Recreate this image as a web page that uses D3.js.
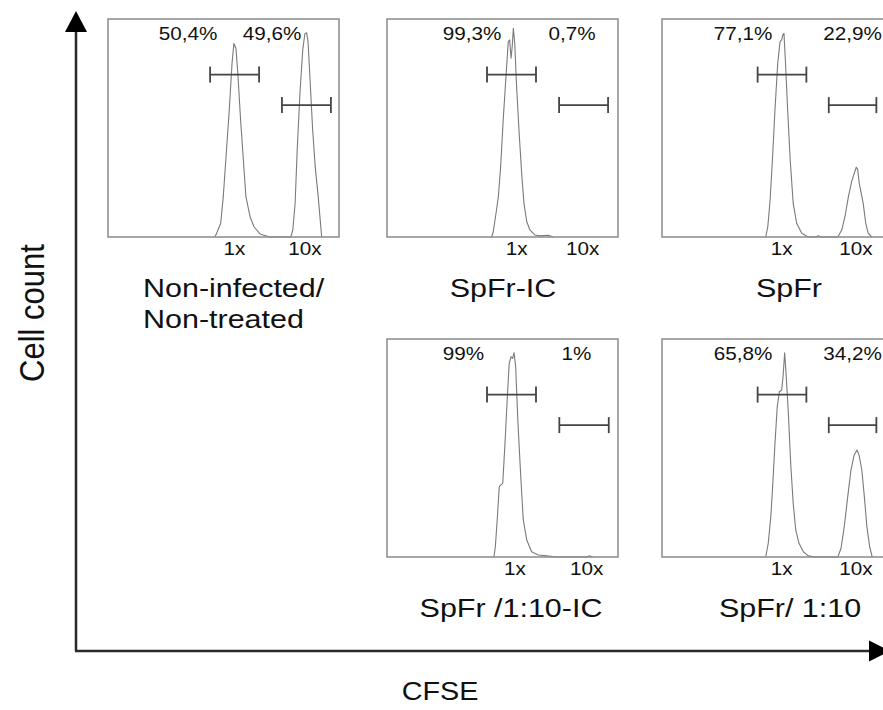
<!DOCTYPE html>
<html>
<head>
<meta charset="utf-8">
<script src="https://cdn.jsdelivr.net/npm/d3@7"></script>
<style>
  html, body { margin: 0; padding: 0; background: #fff; overflow: hidden; }
  svg { display: block; font-family: "Liberation Sans", Arial, Helvetica, sans-serif; }
</style>
</head>
<body>
<script>
// ---------------- DATA ----------------
const panelNames = [["Non-infected/", "Non-treated"], ["SpFr-IC"], ["SpFr"], ["SpFr /1:10-IC"], ["SpFr/ 1:10"]];
const percentLow  = ["50,4%", "99,3%", "77,1%", "99%", "65,8%"];
const percentHigh = ["49,6%", "0,7%", "22,9%", "1%", "34,2%"];
const tickLabels = ["1x", "10x"];
// CFSE channel (0-1000) where the 1x / 10x labels sit, per panel
const tickChannels = [[547, 853], [561, 847], [518, 840], [554, 864], [518, 840]];
// Gate bounds (CFSE channel) per panel
const gateLow  = [[442, 654], [433, 645], [414, 625], [433, 645], [414, 625]];
const gateHigh = [[753, 965], [745, 957], [722, 928], [746, 960], [722, 928]];
// gate heights (% of max count)
const gateLevels = [74.5, 60.5];

// Histograms: [CFSE channel, cell count (% of max)]
const histNonInfected = [
  [463,0],[473,2.4],[488,6.3],[499,18.5],[511,36.9],[525,58.3],[537,79.7],[545,88.8],[554,86.5],
  [563,73.5],[574,53.7],[586,35.3],[597,18.5],[615,9.3],[632,4.7],[658,1.4],[701,0],
  [791,0],[800,3.2],[810,15.4],[819,39.9],[831,65.9],[843,85.8],[852,93.1],[860,93.7],[866,89.6],
  [874,73.5],[886,49.1],[897,32.3],[910,18.5],[925,0]
];
const histSpFrIC = [
  [453,0],[460,2.4],[472,10.9],[482,18.5],[492,32.3],[503,53.7],[515,73.5],[525,89.6],[531,90.4],
  [537,82],[542,87.3],[547,95.7],[553,88.8],[561,69],[573,46],[584,27.7],[593,15.4],[605,7],
  [619,3.2],[641,0.9],[662,0.5],[698,0.8],[720,0]
];
const histSpFr = [
  [449,0],[458,4.7],[468,17],[478,35.3],[489,58.3],[501,79.7],[511,89.6],[518,90.4],[523,92.7],
  [528,93.4],[534,81.2],[544,58.3],[555,35.3],[568,15.4],[583,6.3],[605,1.7],[633,0],
  [666,0],[677,0.6],[688,0],
  [761,0],[778,3.2],[792,9.3],[807,18.5],[821,25.4],[832,29.2],[841,32],[847,31],[854,24.6],
  [861,20.8],[871,15.4],[882,6.3],[893,1.7],[908,0]
];
const histSpFr110IC = [
  [463,0],[469,4.7],[478,18.5],[486,32.3],[492,33],[501,33.8],[510,50.6],[521,73.5],[529,88.8],
  [537,91.9],[544,91.1],[550,93.7],[557,87.3],[567,61.3],[579,36.9],[590,17],[605,7.8],[626,2.4],
  [655,0.9],[691,0.5],[735,0],
  [867,0],[876,0.6],[890,0]
];
const histSpFr110 = [
  [449,0],[460,6.3],[471,18.5],[479,32.3],[489,52.1],[499,69],[508,75.8],[518,76.6],[524,82.7],
  [531,93.7],[537,84.3],[547,66],[557,43],[568,24.6],[579,12.4],[593,6.3],[612,2.4],[633,0.5],[662,0],
  [761,0],[775,4],[789,13.9],[804,27.7],[818,39.9],[832,46.8],[844,49.1],[853,46.8],[865,39.9],
  [876,27.7],[887,13.9],[899,4.7],[910,0]
];
const histograms = [histNonInfected, histSpFrIC, histSpFr, histSpFr110IC, histSpFr110];

// ---------------- LAYOUT ----------------
const W = 883, H = 710;
const PW = 231, PH = 218;
const colX = [108, 387, 662];
const rowY = [19, 339];
const panelGrid = [[0, 0], [0, 1], [0, 2], [1, 1], [1, 2]]; // [row, col]
const pctLowX  = [80, 85, 81, 76.5, 81];
const pctHighX = [164, 185, 190.5, 189.5, 190.5];
const nameX = [35, 116, 127, 124, 128];
const STRETCH = 1.15; // the original artwork's type is slightly wide

function addText(parent, tx, ty, str, size, anchor, rot) {
  return parent.append("text")
    .attr("transform", `translate(${tx},${ty}) scale(${STRETCH},1)` + (rot ? ` rotate(${rot})` : ""))
    .attr("text-anchor", anchor)
    .attr("font-size", size)
    .attr("fill", "#111")
    .text(str);
}

const svg = d3.select("body").append("svg")
  .attr("width", W).attr("height", H)
  .attr("viewBox", `0 0 ${W} ${H}`);

const x = d3.scaleLinear().domain([0, 1000]).range([0, PW]);
const y = d3.scaleLinear().domain([0, 100]).range([PH, 0]);
const line = d3.line().x(d => x(d[0])).y(d => y(d[1]));

histograms.forEach((hist, i) => {
  const [r, c] = panelGrid[i];
  const g = svg.append("g").attr("transform", `translate(${colX[c]},${rowY[r]})`);

  g.append("path")
    .attr("d", line(hist))
    .attr("fill", "none")
    .attr("stroke", "#7a7a7a")
    .attr("stroke-width", 1.1)
    .attr("stroke-linejoin", "round");

  g.append("rect")
    .attr("x", 0).attr("y", 0).attr("width", PW).attr("height", PH)
    .attr("fill", "none").attr("stroke", "#8a8a8a").attr("stroke-width", 1.5);

  [gateLow[i], gateHigh[i]].forEach((gate, k) => {
    const gy = y(gateLevels[k]);
    const gg = g.append("g").attr("stroke", "#444").attr("stroke-width", 1.8);
    gg.append("line").attr("x1", x(gate[0])).attr("x2", x(gate[1])).attr("y1", gy).attr("y2", gy);
    gate.forEach(v => {
      gg.append("line").attr("x1", x(v)).attr("x2", x(v)).attr("y1", gy - 8).attr("y2", gy + 8);
    });
  });

  addText(g, pctLowX[i], 21, percentLow[i], 18, "middle");
  addText(g, pctHighX[i], 21, percentHigh[i], 18, "middle");

  tickChannels[i].forEach((ch, k) => {
    addText(g, x(ch), PH + 18, tickLabels[k], 18, "middle");
  });

  const names = panelNames[i];
  names.forEach((t, k) => {
    addText(g, nameX[i], PH + 60 + k * 31, t, 26.5, names.length > 1 ? "start" : "middle");
  });
});

// ---------------- AXES (arrows) ----------------
const ax = svg.append("g").attr("stroke", "#2a2a2a").attr("stroke-width", 2.5).attr("fill", "none");
ax.append("line").attr("x1", 76).attr("y1", 651).attr("x2", 76).attr("y2", 28);
ax.append("line").attr("x1", 75).attr("y1", 651).attr("x2", 872).attr("y2", 651);
svg.append("path").attr("d", "M76,11 L87,32 L65,32 Z").attr("fill", "#000");
svg.append("path").attr("d", "M869,640.5 L890,651 L869,661.5 Z").attr("fill", "#000");

addText(svg, 44, 313, "Cell count", 31, "middle", -90);
addText(svg, 440, 700, "CFSE", 25, "middle");
</script>
</body>
</html>
